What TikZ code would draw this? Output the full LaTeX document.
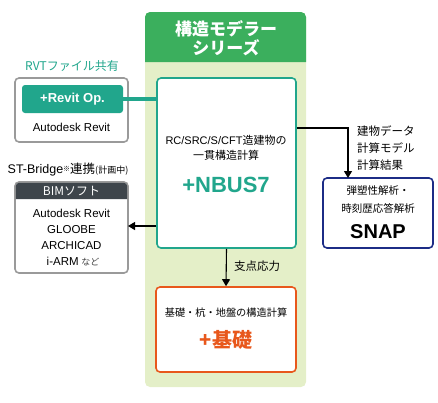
\documentclass[tikz,border=0pt]{standalone}
\usepackage{fontspec}
\setmainfont{Noto Sans CJK JP}
\newfontfamily\lat{Liberation Sans}
\usetikzlibrary{arrows.meta}
\definecolor{hdrgreen}{HTML}{3BAF5D}
\definecolor{panelbg}{HTML}{E4EFC8}
\definecolor{tealc}{HTML}{21A68C}
\definecolor{orangec}{HTML}{E8581C}
\definecolor{navyc}{HTML}{1C2C86}
\definecolor{grayc}{HTML}{9A9A9A}
\definecolor{darkhdr}{HTML}{3E454B}
\newcommand{\fs}[1]{\fontsize{#1}{#1}\selectfont}
\tikzset{
  box/.style={draw, rounded corners=4pt, line width=1.6pt, fill=white, inner sep=0pt},
  txt/.style={inner sep=0pt, align=center},
  arr/.style={line width=1.1pt, -{Triangle[length=7pt,width=8pt]}},
}
\begin{document}
\begin{tikzpicture}[x=1pt,y=-1pt]
\useasboundingbox (0,0) rectangle (438,402);
% panel
\fill[panelbg, rounded corners=5pt] (145,12) rectangle (306,387);
\fill[hdrgreen] (145,62) [rounded corners=5pt]-- (145,12) -- (306,12) [sharp corners]-- (306,62) -- cycle;
\node[txt, text=white, font=\fs{17}\bfseries] (h1) at (226,29) {構造モデラー};
\node[txt, text=white, font=\fs{17}\bfseries] (h2) at (226,47.5) {シリーズ};
% NBUS7
\node[box, draw=tealc, minimum width=139pt, minimum height=170pt] (nbus) at (226.5,163) {};
\node[txt, font=\fs{11}] (n1) at (226,140) {{\lat RC/SRC/S/CFT}造建物の};
\node[txt, font=\fs{11}] (n2) at (226,155) {一貫構造計算};
\node[txt, text=tealc, font=\fs{22}\bfseries\lat] (n3) at (226,185) {+NBUS7};
% Kiso
\node[box, draw=orangec, minimum width=140pt, minimum height=85pt] (kiso) at (226,329.5) {};
\node[txt, font=\fs{10.2}] (k1) at (226,313) {基礎・杭・地盤の構造計算};
\node[txt, text=orangec, font=\fs{20}\bfseries] (k2) at (226,340) {+基礎};
% SNAP
\node[box, draw=navyc, minimum width=110pt, minimum height=70pt] (snap) at (378,213) {};
\node[txt, font=\fs{10.5}] (s1) at (378,191) {弾塑性解析・};
\node[txt, font=\fs{10.5}] (s2) at (378,208) {時刻歴応答解析};
\node[txt, font=\fs{20}\bfseries\lat] (s3) at (378,232) {SNAP};
% Revit
\node[box, draw=grayc, minimum width=113pt, minimum height=64pt] (revit) at (71.5,110) {};
\node[fill=tealc, rounded corners=3pt, minimum width=101pt, minimum height=28pt, inner sep=0pt, text=white, font=\fs{13}\bfseries\lat] (rop) at (72.5,99) {+Revit Op.};
\node[txt, font=\fs{11.5}\lat] (r2) at (71.5,127) {Autodesk Revit};
\node[txt, text=tealc, font=\fs{12}] (rl) at (72,66) {RVTファイル共有};
% BIM
\node[box, draw=grayc, minimum width=113pt, minimum height=91pt] (bim) at (71.5,227.5) {};
\fill[darkhdr] (15.8,199) [rounded corners=3.2pt]-- (15.8,182.8) -- (127.2,182.8) [sharp corners]-- (127.2,199) -- cycle;
\node[txt, text=white, font=\fs{12}] (bh) at (71.5,191) {BIMソフト};
\node[txt, font=\fs{11.5}\lat] (b1) at (71.5,213) {Autodesk Revit};
\node[txt, font=\fs{11.5}\lat] (b2) at (71.5,229.5) {GLOOBE};
\node[txt, font=\fs{11.5}\lat] (b3) at (71.5,246) {ARCHICAD};
\node[txt, font=\fs{11.5}] (b4) at (73,262) {{\lat i-ARM} {\color{darkgray}\fs{9}など}};
\node[txt, font=\fs{12.5}] (bl) at (68,170) {{\lat ST-Bridge}\raisebox{2pt}{\fs{7}※}連携{\fs{9}(計画中)}};
% connectors
\draw[tealc, line width=4pt] (rop.east) -- (nbus.west |- rop.east);
\coordinate (bimin) at (128,226);
\draw[arr] (nbus.west |- bimin) -- (bimin);
\coordinate (snapin) at (348,178);
\coordinate (turn) at (348,128);
\draw[arr] (nbus.east |- turn) -| (snapin);
\draw[arr] (nbus.south) -- (kiso.north);
% labels
\node[txt, font=\fs{11.5}, anchor=west] (d1) at (357,131) {建物データ};
\node[txt, font=\fs{11.5}, anchor=west] (d2) at (357,148) {計算モデル};
\node[txt, font=\fs{11.5}, anchor=west] (d3) at (357,165) {計算結果};
\node[txt, font=\fs{11.5}, anchor=west] (sp) at (234,266) {支点応力};
\end{tikzpicture}
\end{document}
